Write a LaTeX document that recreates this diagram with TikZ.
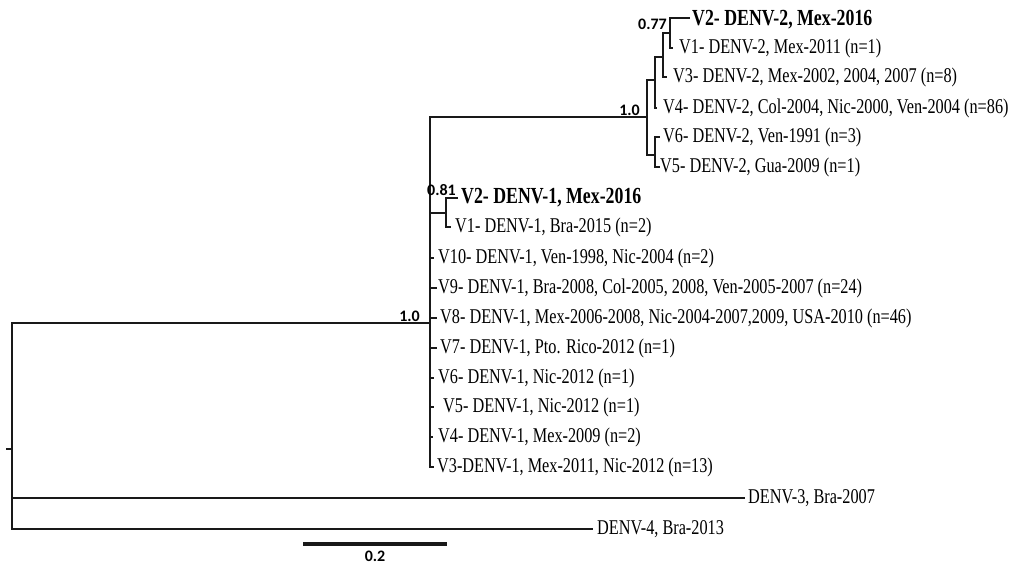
\documentclass[tikz,border=0pt]{standalone}
\usepackage{fontspec}
\newfontfamily\treefont[FakeStretch=0.774]{Liberation Serif}
\newfontfamily\suppfont{Carlito}
\begin{document}
\begin{tikzpicture}[x=1pt,y=-1pt,
  br/.style={line width=2.8pt, line join=miter, draw=black!90},
  lab/.style={anchor=base west, inner sep=0pt, font=\treefont\fontsize{21}{21}\selectfont},
  blab/.style={anchor=base west, inner sep=0pt, font=\treefont\bfseries\fontsize{23}{23}\selectfont},
  supp/.style={anchor=base east, inner sep=0pt, font=\suppfont\bfseries\fontsize{16}{16}\selectfont}]
\useasboundingbox[fill=white] (0,0) rectangle (1014,563);
% internal nodes
\coordinate (r0) at (6,449);
\coordinate (R) at (12,449);
\coordinate (N12) at (430,323);
\coordinate (D2) at (647,117);
\coordinate (A) at (655,80);
\coordinate (C) at (663,57);
\coordinate (E) at (670,33);
\coordinate (B) at (655,155);
\coordinate (N1a) at (446,213);
% tips DENV-2
\coordinate (t2v2) at (690,18);
\coordinate (t2v1) at (673,48);
\coordinate (t2v3) at (667,77);
\coordinate (t2v4) at (657,108);
\coordinate (t2v6) at (660,137);
\coordinate (t2v5) at (660,167);
% tips DENV-1
\coordinate (t1v2) at (458,198);
\coordinate (t1v1) at (451,227);
\coordinate (t1v10) at (434,258);
\coordinate (t1v9) at (437,288);
\coordinate (t1v8) at (437,318);
\coordinate (t1v7) at (437,348);
\coordinate (t1v6) at (434,378);
\coordinate (t1v5) at (434,407);
\coordinate (t1v4) at (433,437);
\coordinate (t1v3) at (434,467);
% other serotypes
\coordinate (t3) at (745,498);
\coordinate (t4) at (593,529);
% branches
\draw[br] (r0) -- (R);
\draw[br] (R) |- (N12);
\draw[br] (R) |- (t3);
\draw[br] (R) |- (t4);
\draw[br] (N12) |- (D2);
\draw[br] (D2) |- (A);
\draw[br] (D2) |- (B);
\draw[br] (A) |- (C);
\draw[br] (A) |- (t2v4);
\draw[br] (C) |- (E);
\draw[br] (C) |- (t2v3);
\draw[br] (E) |- (t2v2);
\draw[br] (E) |- (t2v1);
\draw[br] (B) |- (t2v6);
\draw[br] (B) |- (t2v5);
\draw[br] (N12) |- (N1a);
\draw[br] (N1a) |- (t1v2);
\draw[br] (N1a) |- (t1v1);
\foreach \t in {t1v10,t1v9,t1v8,t1v7,t1v6,t1v5,t1v4,t1v3}
  \draw[br] (N12) |- (\t);
% labels DENV-2
\node[blab] (l2v2) at (692,25) {V2- DENV-2, Mex-2016};
\node[lab] (l2v1) at (679,53) {V1- DENV-2, Mex-2011 (n=1)};
\node[lab] (l2v3) at (673,82) {V3- DENV-2, Mex-2002, 2004, 2007 (n=8)};
\node[lab] (l2v4) at (663,113) {V4- DENV-2, Col-2004, Nic-2000, Ven-2004 (n=86)};
\node[lab] (l2v6) at (663,142) {V6- DENV-2, Ven-1991 (n=3)};
\node[lab] (l2v5) at (660,172) {V5- DENV-2, Gua-2009 (n=1)};
% labels DENV-1
\node[blab] (l1v2) at (461,203) {V2- DENV-1, Mex-2016};
\node[lab] (l1v1) at (455,232) {V1- DENV-1, Bra-2015 (n=2)};
\node[lab] (l1v10) at (438,263) {V10- DENV-1, Ven-1998, Nic-2004 (n=2)};
\node[lab] (l1v9) at (438,293) {V9- DENV-1, Bra-2008, Col-2005, 2008, Ven-2005-2007 (n=24)};
\node[lab] (l1v8) at (440,323) {V8- DENV-1, Mex-2006-2008, Nic-2004-2007,2009, USA-2010 (n=46)};
\node[lab] (l1v7) at (440,353) {V7- DENV-1, Pto. Rico-2012 (n=1)};
\node[lab] (l1v6) at (438,383) {V6- DENV-1, Nic-2012 (n=1)};
\node[lab] (l1v5) at (443,412) {V5- DENV-1, Nic-2012 (n=1)};
\node[lab] (l1v4) at (438,442) {V4- DENV-1, Mex-2009 (n=2)};
\node[lab] (l1v3) at (437,472) {V3-DENV-1, Mex-2011, Nic-2012 (n=13)};
\node[lab] (l3) at (748,503) {DENV-3, Bra-2007};
\node[lab] (l4) at (597,534) {DENV-4, Bra-2013};
% support values
\node[supp] (s077) at (667,29) {0.77};
\node[supp] (s081) at (456,195) {0.81};
\node[supp] (s10a) at (640,115) {1.0};
\node[supp] (s10b) at (420,321) {1.0};
% scale bar
\coordinate (sb1) at (303,544);
\coordinate (sb2) at (447,544);
\draw[line width=4pt, draw=black!90] (sb1) -- (sb2);
\node[supp, anchor=base] (sbl) at (375,561) {0.2};
\end{tikzpicture}
\end{document}
